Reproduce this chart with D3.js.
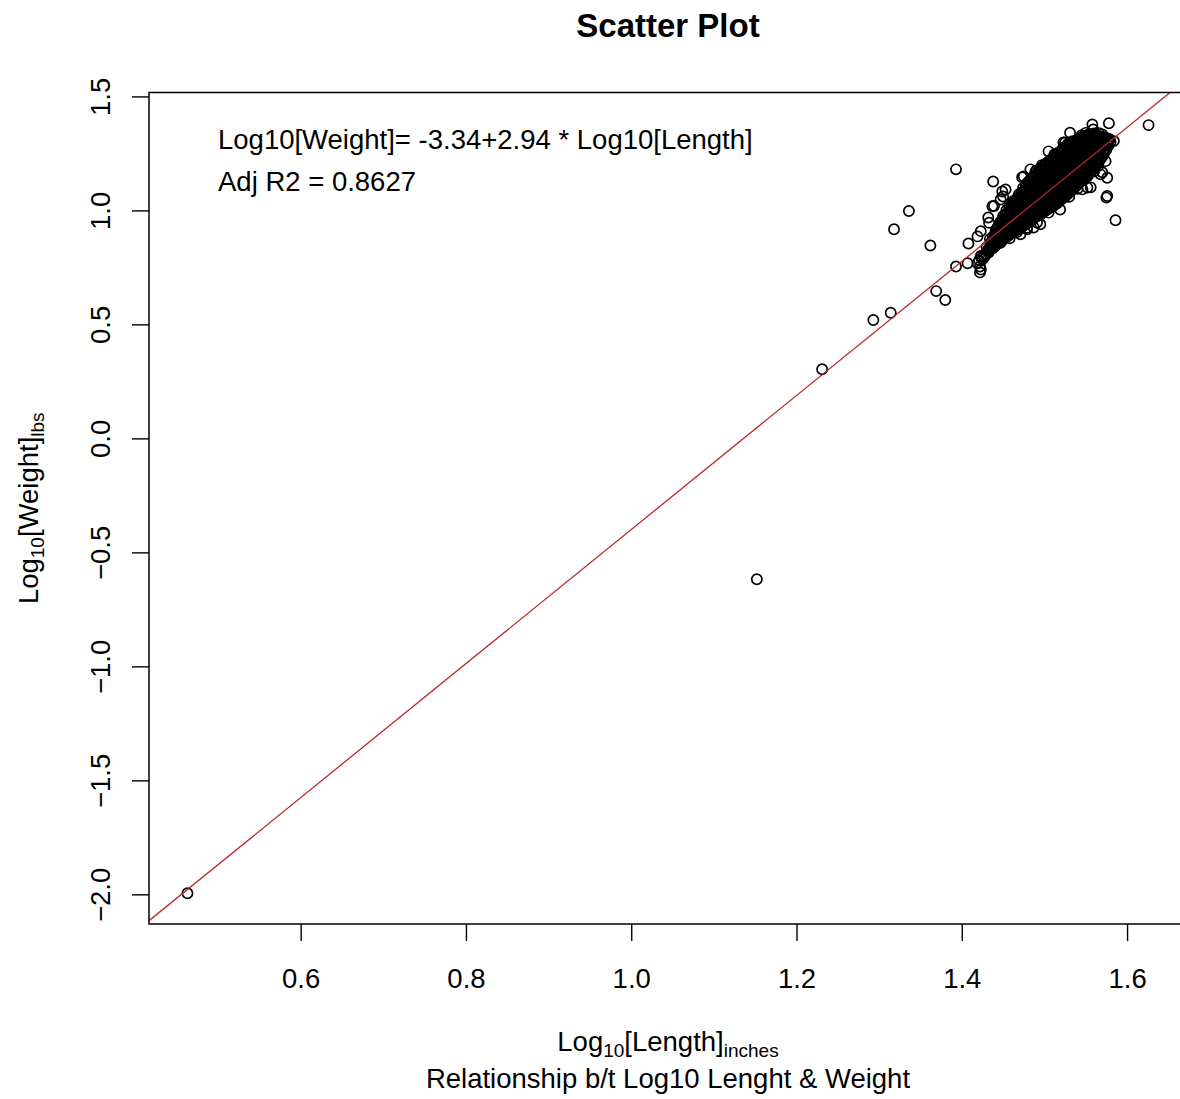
<!DOCTYPE html>
<html>
<head>
<meta charset="utf-8">
<script src="https://cdn.jsdelivr.net/npm/d3@7"></script>
<style>
  body { margin: 0; background: #fff; }
  svg { display: block; }
  text { font-family: "Liberation Sans", Arial, Helvetica, sans-serif; fill: #000; }
</style>
</head>
<body>
<svg id="chart" width="1180" height="1099"></svg>
<script>
// Log10 length (inches) vs log10 weight (lbs): [logLength, logWeight]

// isolated fish away from the main group
const outliers = [
  [0.463, -1.995], [1.152, -0.618], [1.231, 0.303], [1.293, 0.519], [1.314, 0.551],
  [1.318, 0.917], [1.336, 0.997], [1.362, 0.846], [1.369, 0.646], [1.380, 0.607],
  [1.393, 1.180], [1.393, 0.754], [1.407, 0.768], [1.408, 0.855], [1.419, 0.886]
];

// scattered fish around the rim of the main group
const clusterEdge = [
  [1.626, 1.374], [1.578, 1.382], [1.558, 1.377], [1.559, 1.355], [1.531, 1.341],
  [1.523, 1.298], [1.525, 1.298], [1.505, 1.259], [1.483, 1.180], [1.473, 1.145],
  [1.475, 1.149], [1.438, 1.127], [1.449, 1.083], [1.450, 1.061], [1.453, 1.092],
  [1.447, 1.048], [1.437, 1.018], [1.439, 1.019], [1.432, 0.969], [1.433, 0.946],
  [1.423, 0.909], [1.422, 0.754], [1.422, 0.728], [1.423, 0.741], [1.424, 0.790],
  [1.423, 0.800], [1.586, 0.957], [1.575, 1.056], [1.576, 1.063], [1.576, 1.143],
  [1.568, 1.158], [1.570, 1.167], [1.574, 1.216], [1.584, 1.304], [1.562, 1.325],
  [1.552, 1.100], [1.556, 1.101], [1.546, 1.092], [1.552, 1.150], [1.519, 1.004],
  [1.495, 0.939], [1.491, 0.947], [1.471, 0.895], [1.447, 0.858], [1.479, 0.924],
  [1.479, 0.917], [1.487, 0.925], [1.438, 0.838],
  [1.462, 1.040], [1.478, 1.115], [1.490, 1.175], [1.497, 1.198], [1.512, 1.245],
  [1.528, 1.290], [1.545, 1.330], [1.550, 1.340], [1.505, 0.990], [1.530, 1.060],
  [1.540, 1.095], [1.560, 1.170], [1.565, 1.195], [1.467, 0.905], [1.458, 0.878]
];

// dense core of the main group
const clusterCore = [
  [1.419, 0.768], [1.421, 0.781],
  [1.425, 0.786], [1.426, 0.803],
  [1.429, 0.806], [1.431, 0.822], [1.430, 0.839],
  [1.434, 0.826], [1.436, 0.843], [1.435, 0.858], [1.434, 0.874],
  [1.440, 0.843], [1.441, 0.861], [1.439, 0.877], [1.440, 0.894], [1.441, 0.912],
  [1.445, 0.859], [1.444, 0.876], [1.446, 0.894], [1.445, 0.911], [1.444, 0.929], [1.446, 0.946],
  [1.450, 0.872], [1.451, 0.889], [1.449, 0.907], [1.450, 0.925], [1.451, 0.941], [1.449, 0.958], [1.450, 0.975],
  [1.455, 0.885], [1.454, 0.903], [1.456, 0.920], [1.455, 0.938], [1.454, 0.955], [1.456, 0.971], [1.455, 0.987], [1.454, 1.001],
  [1.460, 0.898], [1.461, 0.916], [1.459, 0.933], [1.460, 0.950], [1.461, 0.967], [1.459, 0.984], [1.460, 1.000], [1.461, 1.013], [1.460, 1.027],
  [1.465, 0.911], [1.464, 0.929], [1.466, 0.946], [1.465, 0.963], [1.464, 0.980], [1.466, 0.997], [1.465, 1.014], [1.464, 1.031], [1.466, 1.048],
  [1.470, 0.920], [1.471, 0.938], [1.469, 0.955], [1.470, 0.972], [1.471, 0.989], [1.469, 1.006], [1.470, 1.022], [1.471, 1.039], [1.470, 1.055], [1.469, 1.070],
  [1.475, 0.933], [1.474, 0.951], [1.476, 0.968], [1.475, 0.985], [1.474, 1.002], [1.476, 1.019], [1.475, 1.036], [1.474, 1.052], [1.476, 1.068], [1.475, 1.083], [1.474, 1.097],
  [1.480, 0.946], [1.481, 0.964], [1.479, 0.981], [1.480, 0.998], [1.481, 1.015], [1.479, 1.032], [1.480, 1.049], [1.481, 1.066], [1.479, 1.082], [1.480, 1.098], [1.481, 1.111], [1.480, 1.124],
  [1.485, 0.960], [1.484, 0.977], [1.486, 0.994], [1.485, 1.011], [1.484, 1.028], [1.486, 1.045], [1.485, 1.062], [1.484, 1.079], [1.486, 1.096], [1.485, 1.113], [1.484, 1.129], [1.486, 1.145],
  [1.490, 0.973], [1.491, 0.990], [1.489, 1.007], [1.490, 1.024], [1.491, 1.041], [1.489, 1.058], [1.490, 1.075], [1.491, 1.092], [1.489, 1.109], [1.490, 1.126], [1.491, 1.142], [1.490, 1.156], [1.489, 1.168],
  [1.495, 0.981], [1.494, 0.998], [1.496, 1.015], [1.495, 1.032], [1.494, 1.049], [1.496, 1.066], [1.495, 1.083], [1.494, 1.100], [1.496, 1.117], [1.495, 1.134], [1.494, 1.151], [1.496, 1.168], [1.495, 1.185],
  [1.500, 0.995], [1.501, 1.012], [1.499, 1.029], [1.500, 1.046], [1.501, 1.063], [1.499, 1.080], [1.500, 1.097], [1.501, 1.114], [1.499, 1.131], [1.500, 1.148], [1.501, 1.165], [1.499, 1.181], [1.500, 1.196], [1.501, 1.203],
  [1.505, 1.008], [1.504, 1.025], [1.506, 1.042], [1.505, 1.059], [1.504, 1.076], [1.506, 1.093], [1.505, 1.110], [1.504, 1.127], [1.506, 1.144], [1.505, 1.161], [1.504, 1.178], [1.506, 1.195], [1.505, 1.215],
  [1.510, 1.017], [1.511, 1.034], [1.509, 1.051], [1.510, 1.068], [1.511, 1.085], [1.509, 1.102], [1.510, 1.119], [1.511, 1.136], [1.509, 1.153], [1.510, 1.170], [1.511, 1.187], [1.509, 1.204], [1.510, 1.219], [1.511, 1.233],
  [1.515, 1.030], [1.514, 1.047], [1.516, 1.064], [1.515, 1.081], [1.514, 1.098], [1.516, 1.115], [1.515, 1.132], [1.514, 1.149], [1.516, 1.166], [1.515, 1.183], [1.514, 1.200], [1.516, 1.217], [1.515, 1.232], [1.514, 1.247],
  [1.520, 1.047], [1.521, 1.064], [1.519, 1.081], [1.520, 1.098], [1.521, 1.115], [1.519, 1.132], [1.520, 1.149], [1.521, 1.166], [1.519, 1.183], [1.520, 1.200], [1.521, 1.217], [1.519, 1.233], [1.520, 1.249], [1.521, 1.264],
  [1.525, 1.060], [1.524, 1.077], [1.526, 1.094], [1.525, 1.111], [1.524, 1.128], [1.526, 1.145], [1.525, 1.162], [1.524, 1.179], [1.526, 1.196], [1.525, 1.213], [1.524, 1.230], [1.526, 1.246], [1.525, 1.262], [1.524, 1.277],
  [1.530, 1.078], [1.531, 1.095], [1.529, 1.112], [1.530, 1.129], [1.531, 1.146], [1.529, 1.163], [1.530, 1.180], [1.531, 1.197], [1.529, 1.214], [1.530, 1.231], [1.531, 1.247], [1.529, 1.262], [1.530, 1.276], [1.531, 1.290],
  [1.535, 1.095], [1.534, 1.112], [1.536, 1.129], [1.535, 1.146], [1.534, 1.163], [1.536, 1.180], [1.535, 1.197], [1.534, 1.214], [1.536, 1.231], [1.535, 1.248], [1.534, 1.264], [1.536, 1.279], [1.535, 1.292], [1.534, 1.304],
  [1.540, 1.113], [1.541, 1.130], [1.539, 1.147], [1.540, 1.164], [1.541, 1.181], [1.539, 1.198], [1.540, 1.215], [1.541, 1.232], [1.539, 1.249], [1.540, 1.265], [1.541, 1.281], [1.539, 1.296], [1.540, 1.311],
  [1.545, 1.131], [1.544, 1.148], [1.546, 1.165], [1.545, 1.182], [1.544, 1.199], [1.546, 1.216], [1.545, 1.233], [1.544, 1.250], [1.546, 1.267], [1.545, 1.283], [1.544, 1.298], [1.546, 1.311], [1.545, 1.321],
  [1.550, 1.148], [1.551, 1.165], [1.549, 1.182], [1.550, 1.199], [1.551, 1.216], [1.549, 1.233], [1.550, 1.250], [1.551, 1.267], [1.549, 1.284], [1.550, 1.300], [1.551, 1.315], [1.550, 1.329],
  [1.555, 1.166], [1.554, 1.183], [1.556, 1.200], [1.555, 1.217], [1.554, 1.234], [1.556, 1.251], [1.555, 1.268], [1.554, 1.285], [1.556, 1.302], [1.555, 1.318], [1.554, 1.333],
  [1.560, 1.188], [1.561, 1.205], [1.559, 1.222], [1.560, 1.239], [1.561, 1.256], [1.559, 1.273], [1.560, 1.290], [1.561, 1.307], [1.559, 1.323], [1.560, 1.338],
  [1.565, 1.210], [1.564, 1.227], [1.566, 1.244], [1.565, 1.261], [1.564, 1.278], [1.566, 1.295], [1.565, 1.312], [1.564, 1.326], [1.566, 1.339],
  [1.570, 1.236], [1.571, 1.253], [1.569, 1.270], [1.570, 1.287], [1.571, 1.304], [1.569, 1.319], [1.570, 1.333],
  [1.575, 1.267], [1.574, 1.284], [1.576, 1.301], [1.575, 1.318],
  [1.580, 1.300], [1.579, 1.312]
];

// second batch of fish lying between the ones above in the dense core
const clusterFill = [
  [1.4275, 0.797], [1.4325, 0.815], [1.4325, 0.832],
  [1.4375, 0.834], [1.4375, 0.851], [1.4375, 0.868], [1.4375, 0.885],
  [1.4425, 0.852], [1.4425, 0.869], [1.4425, 0.886], [1.4425, 0.903], [1.4425, 0.921],
  [1.4475, 0.866], [1.4475, 0.884], [1.4475, 0.901], [1.4475, 0.918], [1.4475, 0.935], [1.4475, 0.952],
  [1.4525, 0.880], [1.4525, 0.897], [1.4525, 0.914], [1.4525, 0.931], [1.4525, 0.948], [1.4525, 0.965], [1.4525, 0.982],
  [1.4575, 0.893], [1.4575, 0.910], [1.4575, 0.927], [1.4575, 0.945], [1.4575, 0.962], [1.4575, 0.979], [1.4575, 0.996], [1.4575, 1.012],
  [1.4625, 0.905], [1.4625, 0.922], [1.4625, 0.940], [1.4625, 0.957], [1.4625, 0.974], [1.4625, 0.991], [1.4625, 1.008], [1.4625, 1.024], [1.4625, 1.038],
  [1.4675, 0.916], [1.4675, 0.934], [1.4675, 0.951], [1.4675, 0.968], [1.4675, 0.985], [1.4675, 1.002], [1.4675, 1.019], [1.4675, 1.036], [1.4675, 1.056],
  [1.4725, 0.927], [1.4725, 0.944], [1.4725, 0.962], [1.4725, 0.979], [1.4725, 0.996], [1.4725, 1.013], [1.4725, 1.030], [1.4725, 1.047], [1.4725, 1.063], [1.4725, 1.080],
  [1.4775, 0.940], [1.4775, 0.957], [1.4775, 0.974], [1.4775, 0.991], [1.4775, 1.008], [1.4775, 1.025], [1.4775, 1.042], [1.4775, 1.059], [1.4775, 1.076], [1.4775, 1.092], [1.4775, 1.108],
  [1.4825, 0.953], [1.4825, 0.970], [1.4825, 0.987], [1.4825, 1.004], [1.4825, 1.021], [1.4825, 1.038], [1.4825, 1.055], [1.4825, 1.072], [1.4825, 1.089], [1.4825, 1.105], [1.4825, 1.120], [1.4825, 1.134],
  [1.4875, 0.966], [1.4875, 0.983], [1.4875, 1.000], [1.4875, 1.017], [1.4875, 1.034], [1.4875, 1.051], [1.4875, 1.068], [1.4875, 1.085], [1.4875, 1.102], [1.4875, 1.119], [1.4875, 1.136], [1.4875, 1.152],
  [1.4925, 0.977], [1.4925, 0.994], [1.4925, 1.011], [1.4925, 1.028], [1.4925, 1.045], [1.4925, 1.062], [1.4925, 1.079], [1.4925, 1.096], [1.4925, 1.113], [1.4925, 1.130], [1.4925, 1.147], [1.4925, 1.163], [1.4925, 1.176],
  [1.4975, 0.989], [1.4975, 1.006], [1.4975, 1.023], [1.4975, 1.040], [1.4975, 1.057], [1.4975, 1.074], [1.4975, 1.091], [1.4975, 1.108], [1.4975, 1.125], [1.4975, 1.142], [1.4975, 1.159], [1.4975, 1.176], [1.4975, 1.192],
  [1.5025, 1.002], [1.5025, 1.019], [1.5025, 1.036], [1.5025, 1.053], [1.5025, 1.070], [1.5025, 1.087], [1.5025, 1.104], [1.5025, 1.121], [1.5025, 1.138], [1.5025, 1.155], [1.5025, 1.172], [1.5025, 1.189], [1.5025, 1.207],
  [1.5075, 1.013], [1.5075, 1.030], [1.5075, 1.047], [1.5075, 1.064], [1.5075, 1.081], [1.5075, 1.098], [1.5075, 1.115], [1.5075, 1.132], [1.5075, 1.149], [1.5075, 1.166], [1.5075, 1.183], [1.5075, 1.200], [1.5075, 1.222],
  [1.5125, 1.024], [1.5125, 1.041], [1.5125, 1.058], [1.5125, 1.075], [1.5125, 1.092], [1.5125, 1.109], [1.5125, 1.126], [1.5125, 1.143], [1.5125, 1.160], [1.5125, 1.177], [1.5125, 1.194], [1.5125, 1.211], [1.5125, 1.226], [1.5125, 1.240],
  [1.5175, 1.039], [1.5175, 1.056], [1.5175, 1.073], [1.5175, 1.090], [1.5175, 1.107], [1.5175, 1.124], [1.5175, 1.141], [1.5175, 1.158], [1.5175, 1.175], [1.5175, 1.192], [1.5175, 1.209], [1.5175, 1.225], [1.5175, 1.240], [1.5175, 1.255],
  [1.5225, 1.054], [1.5225, 1.071], [1.5225, 1.088], [1.5225, 1.105], [1.5225, 1.122], [1.5225, 1.139], [1.5225, 1.156], [1.5225, 1.173], [1.5225, 1.190], [1.5225, 1.207], [1.5225, 1.224], [1.5225, 1.241], [1.5225, 1.256], [1.5225, 1.270],
  [1.5275, 1.069], [1.5275, 1.086], [1.5275, 1.103], [1.5275, 1.120], [1.5275, 1.137], [1.5275, 1.154], [1.5275, 1.171], [1.5275, 1.188], [1.5275, 1.205], [1.5275, 1.222], [1.5275, 1.239], [1.5275, 1.255], [1.5275, 1.270], [1.5275, 1.283],
  [1.5325, 1.087], [1.5325, 1.104], [1.5325, 1.121], [1.5325, 1.138], [1.5325, 1.155], [1.5325, 1.172], [1.5325, 1.189], [1.5325, 1.206], [1.5325, 1.223], [1.5325, 1.240], [1.5325, 1.256], [1.5325, 1.271], [1.5325, 1.285], [1.5325, 1.297],
  [1.5375, 1.104], [1.5375, 1.121], [1.5375, 1.138], [1.5375, 1.155], [1.5375, 1.172], [1.5375, 1.189], [1.5375, 1.206], [1.5375, 1.223], [1.5375, 1.240], [1.5375, 1.257], [1.5375, 1.272], [1.5375, 1.287], [1.5375, 1.301],
  [1.5425, 1.122], [1.5425, 1.139], [1.5425, 1.156], [1.5425, 1.173], [1.5425, 1.190], [1.5425, 1.207], [1.5425, 1.224], [1.5425, 1.241], [1.5425, 1.258], [1.5425, 1.274], [1.5425, 1.289], [1.5425, 1.304], [1.5425, 1.316],
  [1.5475, 1.140], [1.5475, 1.157], [1.5475, 1.174], [1.5475, 1.191], [1.5475, 1.208], [1.5475, 1.225], [1.5475, 1.242], [1.5475, 1.259], [1.5475, 1.275], [1.5475, 1.291], [1.5475, 1.306], [1.5475, 1.322],
  [1.5525, 1.157], [1.5525, 1.174], [1.5525, 1.191], [1.5525, 1.208], [1.5525, 1.225], [1.5525, 1.242], [1.5525, 1.259], [1.5525, 1.276], [1.5525, 1.293], [1.5525, 1.309], [1.5525, 1.324],
  [1.5575, 1.177], [1.5575, 1.194], [1.5575, 1.211], [1.5575, 1.228], [1.5575, 1.245], [1.5575, 1.262], [1.5575, 1.279], [1.5575, 1.296], [1.5575, 1.312], [1.5575, 1.329],
  [1.5625, 1.199], [1.5625, 1.216], [1.5625, 1.233], [1.5625, 1.250], [1.5625, 1.267], [1.5625, 1.284], [1.5625, 1.301], [1.5625, 1.317], [1.5625, 1.331],
  [1.5675, 1.223], [1.5675, 1.240], [1.5675, 1.257], [1.5675, 1.274], [1.5675, 1.291], [1.5675, 1.308], [1.5675, 1.324],
  [1.5725, 1.252], [1.5725, 1.269], [1.5725, 1.286], [1.5725, 1.303], [1.5725, 1.320],
  [1.5775, 1.285], [1.5775, 1.302]
];

// fitted model: Log10[Weight] = intercept + slope * Log10[Length]
const fitCoef = [-3.34, 2.94];
const adjR2 = [0.8627];

const xTicks = [0.6, 0.8, 1.0, 1.2, 1.4, 1.6];
const yTicks = [-2.0, -1.5, -1.0, -0.5, 0.0, 0.5, 1.0, 1.5];

const svg = d3.select("#chart");
const box = { left: 149, right: 1187, top: 92.5, bottom: 924 };
const baseFont = 27.5;
const subFont = 19;

const fish = outliers.concat(clusterEdge, clusterCore, clusterFill);

// axis ranges padded by 4% on each side
function padded(ext) {
  const p = (ext[1] - ext[0]) * 0.04;
  return [ext[0] - p, ext[1] + p];
}
const x = d3.scaleLinear()
  .domain(padded(d3.extent(fish, d => d[0])))
  .range([box.left, box.right]);
const y = d3.scaleLinear()
  .domain(padded(d3.extent(fish, d => d[1])))
  .range([box.bottom, box.top]);

svg.append("rect").attr("width", 1180).attr("height", 1099).attr("fill", "#fff");

svg.append("defs").append("clipPath").attr("id", "plot-clip")
  .append("rect")
  .attr("x", box.left).attr("y", box.top)
  .attr("width", box.right - box.left).attr("height", box.bottom - box.top);

// points
svg.append("g")
  .selectAll("circle")
  .data(fish)
  .join("circle")
  .attr("cx", d => x(d[0]))
  .attr("cy", d => y(d[1]))
  .attr("r", 5.1)
  .attr("fill", "none")
  .attr("stroke", "#000")
  .attr("stroke-width", 1.7);

// regression line across the whole plot region
const xd = x.domain();
svg.append("line")
  .attr("clip-path", "url(#plot-clip)")
  .attr("x1", x(xd[0])).attr("y1", y(fitCoef[0] + fitCoef[1] * xd[0]))
  .attr("x2", x(xd[1])).attr("y2", y(fitCoef[0] + fitCoef[1] * xd[1]))
  .attr("stroke", "#b8282c")
  .attr("stroke-width", 1.3);

// frame
svg.append("rect")
  .attr("x", box.left).attr("y", box.top)
  .attr("width", box.right - box.left).attr("height", box.bottom - box.top)
  .attr("fill", "none").attr("stroke", "#000").attr("stroke-width", 1.5);

// x axis
const gx = svg.append("g")
  .attr("transform", `translate(0,${box.bottom})`)
  .call(d3.axisBottom(x).tickValues(xTicks).tickSize(17).tickFormat(d3.format(".1f")));
gx.select(".domain").remove();
gx.selectAll(".tick line").attr("stroke", "#000").attr("stroke-width", 1.4);
gx.selectAll(".tick text")
  .attr("y", 64).attr("dy", null)
  .attr("font-size", baseFont)
  .attr("font-family", "Liberation Sans, Arial, sans-serif");

// y axis, labels parallel to the axis
const gy = svg.append("g")
  .attr("transform", `translate(${box.left},0)`)
  .call(d3.axisLeft(y).tickValues(yTicks).tickSize(17).tickFormat(d3.format(".1f")));
gy.select(".domain").remove();
gy.selectAll(".tick line").attr("stroke", "#000").attr("stroke-width", 1.4);
gy.selectAll(".tick text")
  .attr("x", 0).attr("y", 0).attr("dy", null)
  .attr("transform", "translate(-39,0) rotate(-90)")
  .attr("text-anchor", "middle")
  .attr("font-size", baseFont)
  .attr("font-family", "Liberation Sans, Arial, sans-serif");

const cx = (box.left + box.right) / 2;
const cy = (box.top + box.bottom) / 2;

// title
svg.append("text")
  .attr("x", cx).attr("y", 37)
  .attr("text-anchor", "middle")
  .attr("font-size", 33).attr("font-weight", "bold")
  .text("Scatter Plot");

// model annotation
svg.append("text")
  .attr("x", 218).attr("y", 149)
  .attr("font-size", baseFont)
  .text(`Log10[Weight]= ${fitCoef[0].toFixed(2)}+${fitCoef[1].toFixed(2)} * Log10[Length]`);
svg.append("text")
  .attr("x", 218).attr("y", 191)
  .attr("font-size", baseFont)
  .text(`Adj R2 = ${adjR2[0]}`);

// label with subscripts
function subLabel(sel, parts) {
  parts.forEach(([txt, isSub], i) => {
    const prevSub = i > 0 && parts[i - 1][1];
    let dy = 0;
    if (isSub && !prevSub) dy = 6;
    if (!isSub && prevSub) dy = -6;
    sel.append("tspan")
      .attr("dy", dy)
      .attr("font-size", isSub ? subFont : baseFont)
      .text(txt);
  });
}

const xLab = svg.append("text")
  .attr("x", cx).attr("y", 1051)
  .attr("text-anchor", "middle")
  .attr("font-size", baseFont);
subLabel(xLab, [["Log", false], ["10", true], ["[Length]", false], ["inches", true]]);

svg.append("text")
  .attr("x", cx).attr("y", 1088)
  .attr("text-anchor", "middle")
  .attr("font-size", baseFont)
  .text("Relationship b/t Log10 Lenght & Weight");

const yLab = svg.append("text")
  .attr("transform", `translate(38,${cy}) rotate(-90)`)
  .attr("text-anchor", "middle")
  .attr("font-size", baseFont);
subLabel(yLab, [["Log", false], ["10", true], ["[Weight]", false], ["lbs", true]]);
</script>
</body>
</html>
